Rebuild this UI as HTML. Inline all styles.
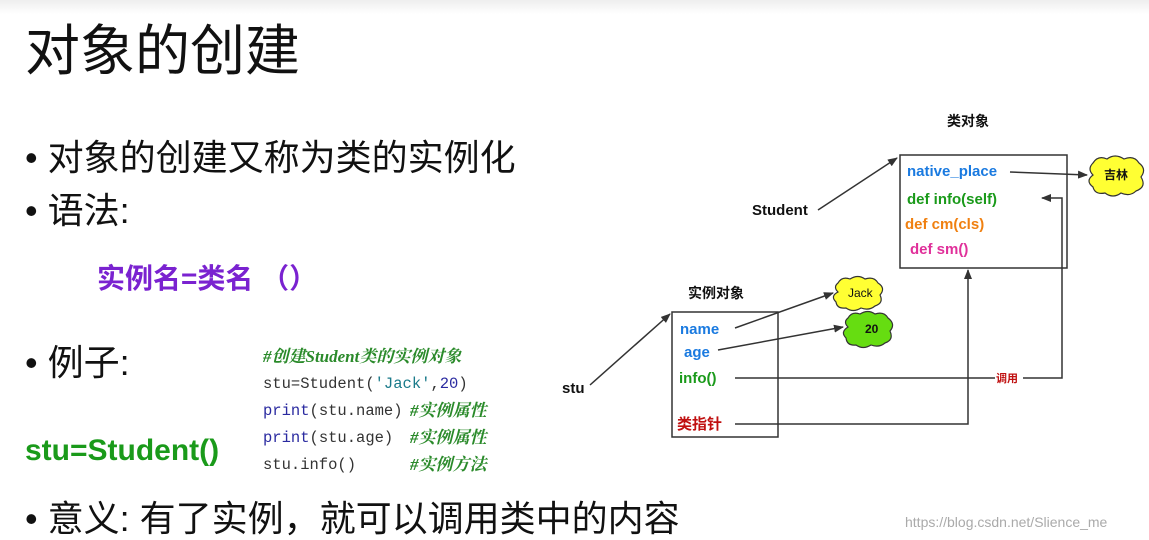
<!DOCTYPE html>
<html><head><meta charset="utf-8"><style>
body{margin:0;width:1149px;height:540px;overflow:hidden;background:#fff;position:relative;font-family:"Liberation Sans","Noto Sans CJK SC",sans-serif}
.t{position:absolute;white-space:pre;line-height:1}
.b{font-size:36px;color:#111}
.c{font-family:"Liberation Mono","Noto Sans CJK SC",monospace;font-size:15.5px;color:#333}
.cm{font-family:"Liberation Serif","Noto Serif CJK SC",serif;font-style:italic;font-weight:bold;color:#2a8a2a;font-size:17px}
</style></head><body>
<div style="position:absolute;left:0;top:0;width:1149px;height:14px;background:linear-gradient(#eee,#fff)"></div>
<div class="t" style="left:25px;top:24px;font-size:55px;color:#111">对象的创建</div>
<div class="t b" style="left:25px;top:140px">• 对象的创建又称为类的实例化</div>
<div class="t b" style="left:25px;top:193px">• 语法:</div>
<div class="t" style="left:97px;top:265px;font-size:28px;font-weight:bold;color:#7a22d0">实例名=类名 （）</div>
<div class="t b" style="left:25px;top:345px">• 例子:</div>
<div class="t" style="left:25px;top:436px;font-size:30px;font-weight:bold;color:#1a9a1a">stu=Student()</div>
<div class="t" style="left:25px;top:501px;font-size:36px;color:#111">• 意义: 有了实例，就可以调用类中的内容</div>
<div class="t cm" style="left:263px;top:348px">#创建Student类的实例对象</div>
<div class="t c" style="left:263px;top:377px">stu=Student(<span style="color:#1a7a8a">'Jack'</span>,<span style="color:#2a2aa0">20</span>)</div>
<div class="t c" style="left:263px;top:404px"><span style="color:#2a2aa0">print</span>(stu.name)</div>
<div class="t c" style="left:263px;top:431px"><span style="color:#2a2aa0">print</span>(stu.age)</div>
<div class="t c" style="left:263px;top:458px">stu.info()</div>
<div class="t cm" style="left:410px;top:402px">#实例属性</div>
<div class="t cm" style="left:410px;top:429px">#实例属性</div>
<div class="t cm" style="left:410px;top:456px">#实例方法</div>
<div class="t" style="left:905px;top:515px;font-size:14px;color:#aaa">https://blog.csdn.net/Slience_me</div>

<svg style="position:absolute;left:0;top:0" width="1149" height="540">
<defs><marker id="a" markerWidth="10" markerHeight="8" refX="9" refY="4" orient="auto" markerUnits="userSpaceOnUse"><path d="M0,0L10,4L0,8z" fill="#333"/></marker></defs>
<g stroke="#333" stroke-width="1.5" fill="none">
<rect x="900" y="155" width="167" height="113"/>
<rect x="672" y="312" width="106" height="125"/>
<line x1="818" y1="210" x2="897" y2="158" marker-end="url(#a)"/>
<line x1="1010" y1="172" x2="1087" y2="175" marker-end="url(#a)"/>
<line x1="590" y1="385" x2="670" y2="314" marker-end="url(#a)"/>
<line x1="735" y1="328" x2="833" y2="293" marker-end="url(#a)"/>
<line x1="718" y1="350" x2="843" y2="327" marker-end="url(#a)"/>
<polyline points="735,378 1062,378 1062,198 1042,198" marker-end="url(#a)"/>
<polyline points="735,424 968,424 968,270" marker-end="url(#a)"/>
</g>
<g stroke="#333" stroke-width="1.2">
<path d="M1093,163 q5,-8 14,-4 q8,-6 17,0 q10,-4 15,4 q8,6 2,14 q6,10 -5,14 q-6,6 -15,2 q-8,6 -16,0 q-10,2 -12,-6 q-8,-6 0,-12 q-6,-6 0,-12z" fill="#ffff33"/>
<path d="M838,283 q4,-7 12,-4 q8,-5 15,0 q9,-3 13,4 q8,5 2,12 q4,8 -5,11 q-6,5 -14,2 q-8,5 -15,0 q-9,1 -10,-6 q-6,-6 2,-10 q-5,-5 0,-9z" fill="#ffff33"/>
<path d="M848,318 q4,-7 12,-4 q8,-5 15,0 q9,-3 13,4 q8,6 2,13 q4,9 -5,12 q-6,5 -14,2 q-8,5 -15,0 q-9,1 -10,-7 q-6,-6 2,-11 q-5,-5 0,-9z" fill="#66dd11"/>
</g>
<rect x="995" y="371" width="28" height="14" fill="#fff"/>
<g font-family="Liberation Sans, Noto Sans CJK SC, sans-serif" font-weight="bold">
<text x="947" y="126" font-size="14" fill="#111">类对象</text>
<text x="752" y="215" font-size="15" fill="#111">Student</text>
<text x="907" y="176" font-size="15" fill="#1a7ae0">native_place</text>
<text x="907" y="204" font-size="15" fill="#1a9a1a">def info(self)</text>
<text x="905" y="229" font-size="15" fill="#f08010">def cm(cls)</text>
<text x="910" y="254" font-size="15" fill="#e0309a">def sm()</text>
<text x="1104" y="179" font-size="12" fill="#111">吉林</text>
<text x="688" y="298" font-size="14" fill="#111">实例对象</text>
<text x="680" y="334" font-size="15" fill="#1a7ae0">name</text>
<text x="684" y="357" font-size="15" fill="#1a7ae0">age</text>
<text x="679" y="383" font-size="15" fill="#1a9a1a">info()</text>
<text x="677" y="429" font-size="15" fill="#c01010">类指针</text>
<text x="562" y="393" font-size="15" fill="#111">stu</text>
<text x="848" y="297" font-size="12" fill="#111" font-weight="normal">Jack</text>
<text x="865" y="333" font-size="12" fill="#111">20</text>
<text x="996" y="382" font-size="11" fill="#c01010">调用</text>
</g>
</svg>
</body></html>
